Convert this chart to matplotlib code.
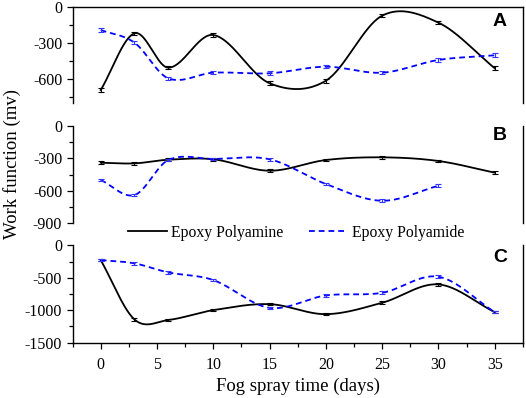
import numpy as np
import matplotlib
matplotlib.use("Agg")
import matplotlib.pyplot as plt
from matplotlib.ticker import MultipleLocator

plt.rcParams['font.family'] = ['Liberation Serif', 'DejaVu Serif']
plt.rcParams['axes.unicode_minus'] = False

days = [0, 3, 6, 10, 15, 20, 25, 30, 35]
days_b_amide = [0, 3, 6, 10, 15, 20, 25, 30]

# panel A
a_amine = [-690, -217, -503, -231, -633, -612, -70, -128, -508]
a_amide = [-189, -295, -592, -545, -550, -495, -545, -439, -400]
# panel B
b_amine = [-340, -346, -312, -308, -414, -315, -290, -324, -432]
b_amide = [-500, -639, -315, -305, -308, -537, -692, -553]
# panel C
c_amine = [-227, -1142, -1150, -998, -906, -1060, -885, -602, -1029]
c_amide = [-227, -278, -417, -535, -963, -772, -731, -484, -1029]

err = [15, 12, 20]
panel_labels = ['A', 'B', 'C']
ylims = [(-800, 0), (-900, 0), (-1500, 0)]
ymajor = [300, 300, 500]


def smooth(x, y, per=60):
    # Catmull-Rom style Hermite curve through the points
    x = np.asarray(x, float)
    y = np.asarray(y, float)
    n = len(x)
    m = np.zeros(n)
    m[0] = (y[1] - y[0]) / (x[1] - x[0])
    m[-1] = (y[-1] - y[-2]) / (x[-1] - x[-2])
    for i in range(1, n - 1):
        m[i] = (y[i + 1] - y[i - 1]) / (x[i + 1] - x[i - 1])
    xs_all, ys_all = [], []
    for i in range(n - 1):
        h = x[i + 1] - x[i]
        t = np.linspace(0, 1, per)
        h00 = 2 * t**3 - 3 * t**2 + 1
        h10 = t**3 - 2 * t**2 + t
        h01 = -2 * t**3 + 3 * t**2
        h11 = t**3 - t**2
        xs_all.append(x[i] + t * h)
        ys_all.append(h00 * y[i] + h10 * h * m[i] + h01 * y[i + 1] + h11 * h * m[i + 1])
    return np.concatenate(xs_all), np.concatenate(ys_all)


fig = plt.figure(figsize=(5.26, 3.98), dpi=100)
left, width = 0.138, 0.856
boxes = [(0.7405, 0.2412), (0.4392, 0.2442), (0.1389, 0.2447)]
series = [(days, a_amine, days, a_amide),
          (days, b_amine, days_b_amide, b_amide),
          (days, c_amine, days, c_amide)]
letter_y = [0.847, 0.907, 0.87]

axes = []
for k, (bottom, height) in enumerate(boxes):
    ax = fig.add_axes([left, bottom, width, height])
    axes.append(ax)
    x1, y1, x2, y2 = series[k]
    xs, ys = smooth(x1, y1)
    l1, = ax.plot(xs, ys, color='black', lw=1.3, label='Epoxy Polyamine')
    ax.errorbar(x1, y1, yerr=err[k], fmt='none', ecolor='black', elinewidth=0.8, capsize=2.2, capthick=0.8)
    xs, ys = smooth(x2, y2)
    l2, = ax.plot(xs, ys, color='#0000ff', lw=1.3, ls=(0, (3.2, 2.2)), label='Epoxy Polyamide')
    ax.errorbar(x2, y2, yerr=err[k], fmt='none', ecolor='#3333ff', elinewidth=0.8, capsize=2.2, capthick=0.8)

    ax.set_xlim(-2.5, 37.5)
    ax.set_ylim(*ylims[k])
    ax.yaxis.set_major_locator(MultipleLocator(ymajor[k]))
    ax.yaxis.set_minor_locator(MultipleLocator(ymajor[k] / 2))
    ax.xaxis.set_major_locator(MultipleLocator(5))
    ax.xaxis.set_minor_locator(MultipleLocator(2.5))
    ax.tick_params(axis='y', which='major', direction='out', length=4.5, width=0.9, labelsize=11.5, pad=3)
    ax.tick_params(axis='y', which='minor', direction='out', length=2.8, width=0.9)
    ax.tick_params(axis='x', which='major', direction='out', length=4.5, width=0.9, labelsize=11.5, pad=6)
    ax.tick_params(axis='x', which='minor', direction='out', length=2.8, width=0.9)
    for s in ax.spines.values():
        s.set_linewidth(1.0)
    ax.spines['bottom'].set_visible(k == 2)
    ax.spines['top'].set_visible(k == 0)
    if k != 2:
        ax.tick_params(axis='x', which='both', bottom=False, labelbottom=False)
    ax.text(0.949, letter_y[k], panel_labels[k], transform=ax.transAxes, ha='center', va='center',
            fontsize=14, fontweight='bold', family='Liberation Sans')
    ax.patch.set_visible(False)

axes[2].set_xlabel('Fog spray time (days)', fontsize=13.5, labelpad=3)
fig.text(0.022, 0.588, 'Work function (mv)', rotation=90, ha='center', va='center', fontsize=13.5)

fig.legend(handles=[l1, l2], loc='center', bbox_to_anchor=(0.563, 0.4153), ncol=2, frameon=False,
           fontsize=11.3, handlelength=2.5, handletextpad=0.25, columnspacing=1.6, borderpad=0)

fig.savefig('out.png', dpi=100)
